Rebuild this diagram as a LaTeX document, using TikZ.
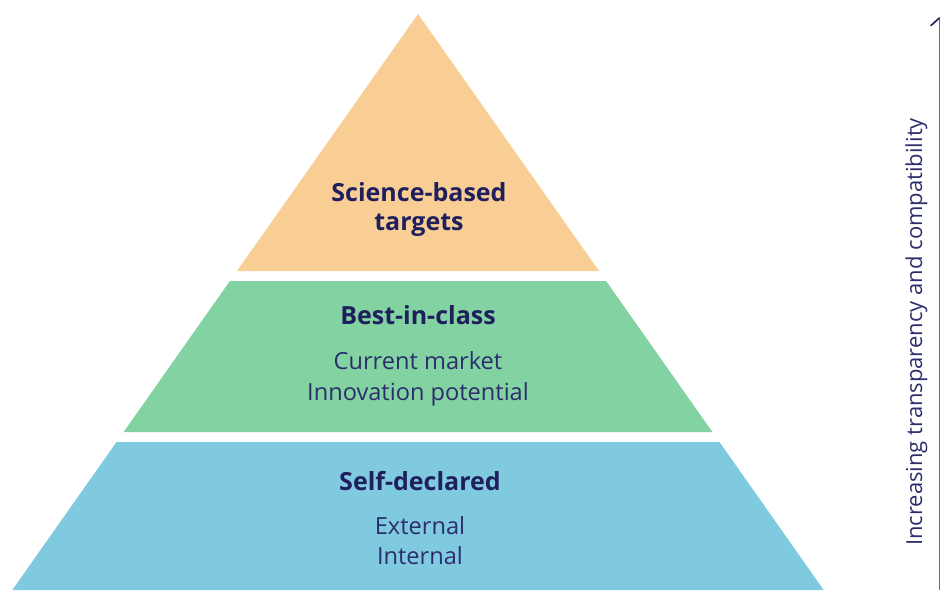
\documentclass[tikz,border=0pt]{standalone}
\usepackage{fontspec}
\setmainfont{Open Sans}
\definecolor{tierorange}{HTML}{F9CE95}
\definecolor{tiergreen}{HTML}{82D2A2}
\definecolor{tierblue}{HTML}{80CAE0}
\definecolor{navy}{HTML}{1F1F5E}
\definecolor{inkblue}{HTML}{2C2E6C}
\definecolor{axisgrey}{HTML}{6A6A8C}
\begin{document}
\begin{tikzpicture}[x=1pt,y=-1pt,
  tier/.style={draw=none},
  heading/.style={anchor=base,inner sep=0pt,text=navy,font=\fontsize{25}{30}\selectfont\bfseries},
  item/.style={anchor=base,inner sep=0pt,text=inkblue,font=\fontsize{23.6}{28}\selectfont},
  axislabel/.style={anchor=base,inner sep=0pt,text=inkblue,rotate=90,font=\fontsize{22}{26}\selectfont}]
  \useasboundingbox (0,0) rectangle (940,590);
  % pyramid tiers
  \fill[tier,tierorange] (418,14) -- (599,271) -- (237,271) -- cycle;
  \fill[tier,tiergreen] (229.9,281) -- (606.1,281) -- (712.4,432) -- (123.6,432) -- cycle;
  \fill[tier,tierblue] (116.5,442) -- (719.5,442) -- (823.7,590) -- (12.3,590) -- cycle;
  % labels
  \node[heading] (sbt1) at (419,201.5) {Science-based};
  \node[heading] (sbt2) at (419,230.5) {targets};
  \node[heading] (bic) at (418,324.3) {Best-in-class};
  \node[item] (bic1) at (418,369.3) {Current market};
  \node[item] (bic2) at (418,400) {Innovation potential};
  \node[heading] (sd) at (420,490) {Self-declared};
  \node[item] (sd1) at (420,534) {External};
  \node[item] (sd2) at (420,564) {Internal};
  % axis
  \coordinate (axbot) at (939.3,590);
  \coordinate (axtop) at (939.3,18);
  \coordinate (axbarb) at (931,25.5);
  \draw[axisgrey,line width=1.3pt] (axbot) -- (axtop);
  \draw[navy,line width=1.6pt,line cap=round] (axtop) -- (axbarb);
  \node[axislabel] (axtext) at (922,332) {Increasing transparency and compatibility};
\end{tikzpicture}
\end{document}
